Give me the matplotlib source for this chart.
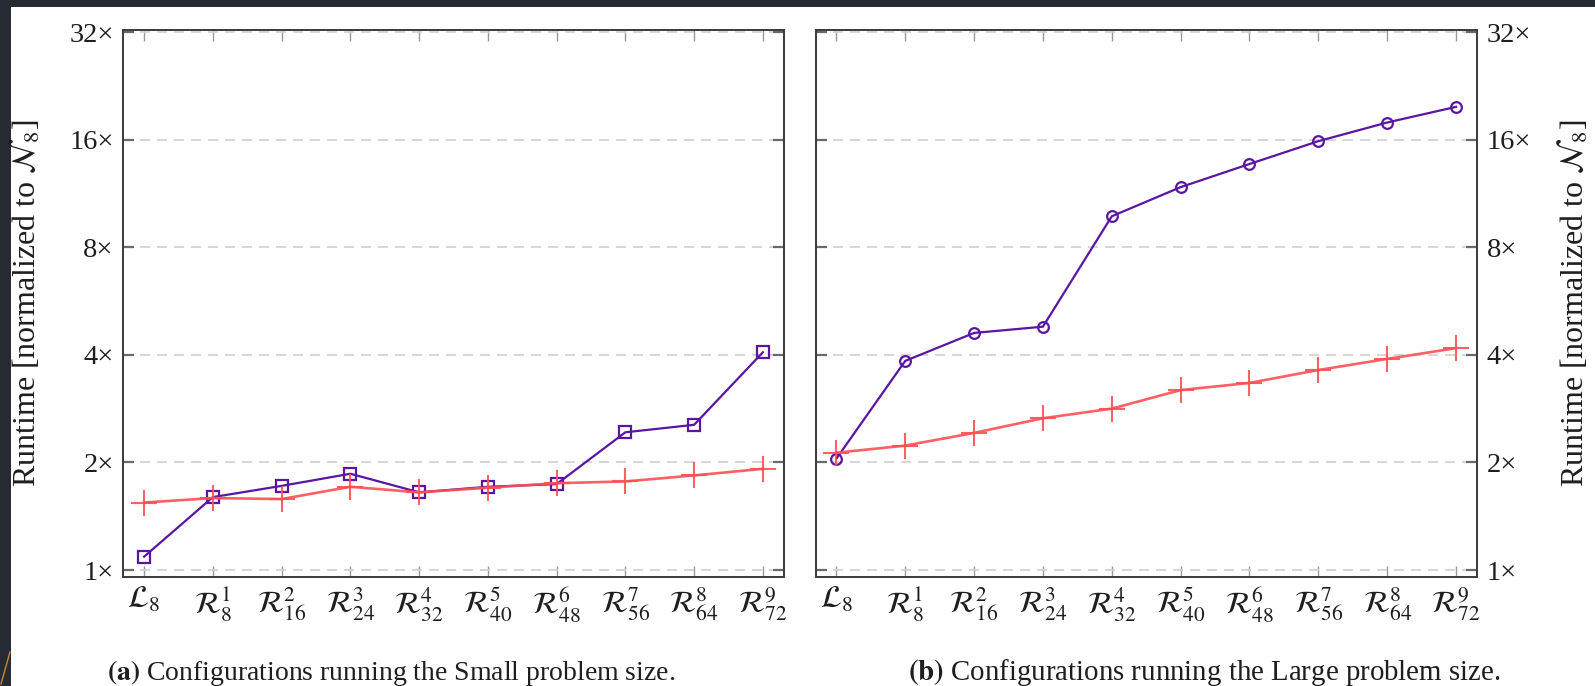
import matplotlib
matplotlib.use('Agg')
import matplotlib.pyplot as plt
from matplotlib.ticker import NullLocator
from matplotlib.patches import Rectangle
from matplotlib.lines import Line2D

plt.rcParams['font.family'] = ['Liberation Serif', 'DejaVu Serif']
plt.rcParams['mathtext.fontset'] = 'stix'

categories = [r'$\mathcal{L}_{8}$', r'$\mathcal{R}^{1}_{8}$', r'$\mathcal{R}^{2}_{16}$',
              r'$\mathcal{R}^{3}_{24}$', r'$\mathcal{R}^{4}_{32}$', r'$\mathcal{R}^{5}_{40}$',
              r'$\mathcal{R}^{6}_{48}$', r'$\mathcal{R}^{7}_{56}$', r'$\mathcal{R}^{8}_{64}$',
              r'$\mathcal{R}^{9}_{72}$']
yticks = [1, 2, 4, 8, 16, 32]
ytick_labels = ['1×', '2×', '4×', '8×', '16×', '32×']

small_purple = [1.09, 1.60, 1.72, 1.86, 1.65, 1.71, 1.74, 2.43, 2.55, 4.07]
small_red = [1.545, 1.59, 1.58, 1.71, 1.65, 1.70, 1.75, 1.77, 1.84, 1.92]
large_purple = [2.05, 3.85, 4.61, 4.80, 9.78, 11.8, 13.7, 15.87, 17.9, 19.8]
large_red = [2.13, 2.23, 2.42, 2.66, 2.83, 3.19, 3.34, 3.63, 3.90, 4.18]

ylabel = r'Runtime [normalized to $\mathcal{N}_8$]'
captions = [(r'$\mathbf{(a)}$ Configurations running the Small problem size.', 107, 20),
            (r'$\mathbf{(b)}$ Configurations running the Large problem size.', 908, 20.8)]

PURPLE = '#5a16a3'
RED = '#ff4f55'

W, H = 1595, 686
fig = plt.figure(figsize=(W / 100, H / 100), dpi=100)
fig.patch.set_facecolor('white')

def px_axes(x0, x1, y_top, y_bot):
    return fig.add_axes([x0 / W, (H - y_bot) / H, (x1 - x0) / W, (y_bot - y_top) / H])

ax1 = px_axes(123.5, 783.5, 29.5, 577)
ax2 = px_axes(815.7, 1476.7, 29.5, 577)

x = list(range(len(categories)))
for ax, purple, red, mk, ms in [(ax1, small_purple, small_red, 's', 8.2),
                                (ax2, large_purple, large_red, 'o', 7.7)]:
    ax.set_yscale('log', base=2)
    ax.set_ylim(0.956, 32.6)
    ax.set_xlim(-0.3, 9.3)
    ax.set_yticks(yticks)
    ax.set_yticklabels(ytick_labels, fontsize=20.5, color='#1e1e1e')
    ax.yaxis.set_minor_locator(NullLocator())
    ax.set_xticks(x)
    ax.set_xticklabels(categories, fontsize=22, color='#1e1e1e')
    ax.grid(axis='y', linestyle=(0, (6, 4.2)), color='#cfcfcf', lw=1.2, zorder=0)
    ax.tick_params(axis='y', direction='in', left=True, right=True, length=8, width=1.6,
                   color='#6a6a6a', pad=7)
    ax.tick_params(axis='x', direction='in', top=True, bottom=True, length=8, width=1.0,
                   color='#9a9a9a', pad=6)
    for s in ax.spines.values():
        s.set_color('#3a3a3a')
        s.set_linewidth(1.4)
    ax.plot(x, purple, color=PURPLE, lw=1.6, marker=mk, ms=ms, mfc='none',
            mec=PURPLE, mew=1.6, zorder=3)
    ax.plot(x, red, color=RED, lw=1.9, marker='+', ms=18.5, mew=1.5, alpha=0.9, zorder=4)

ax1.set_ylabel(ylabel, fontsize=23, color='#1e1e1e', va='center')
ax1.yaxis.set_label_coords(-0.148, 0.5)

ax2.yaxis.tick_right()
ax2.tick_params(axis='y', left=True, right=True, labelleft=False, labelright=True)
ax2.yaxis.set_label_position('right')
ax2.set_ylabel(ylabel, fontsize=23, color='#1e1e1e', va='center', rotation=90)
ax2.yaxis.set_label_coords(1.146, 0.5)

for text, xpx, fs in captions:
    fig.text(xpx / W, (H - 680) / H, text, fontsize=fs, color='#1e1e1e',
             ha='left', va='baseline')

# dark frame strips of the screenshot
fig.add_artist(Rectangle((0, 1 - 7 / H), 1, 7 / H, transform=fig.transFigure,
                         facecolor='#262a33', edgecolor='none', zorder=-5))
fig.add_artist(Rectangle((0, 0), 11 / W, 1, transform=fig.transFigure,
                         facecolor='#262a33', edgecolor='none', zorder=-5))
fig.add_artist(Line2D([1 / W, 10 / W], [(H - 684) / H, (H - 652) / H],
                      transform=fig.transFigure, color='#c8882a', lw=1.0))

fig.savefig('out.png', dpi=100)
